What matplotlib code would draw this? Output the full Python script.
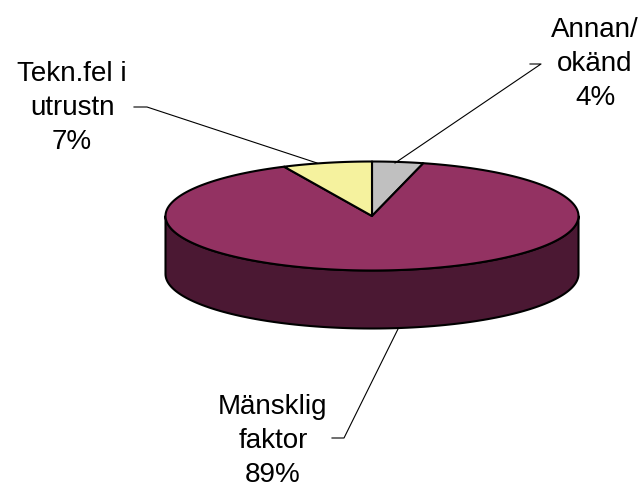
import numpy as np
import matplotlib
matplotlib.use('Agg')
import matplotlib.pyplot as plt
from matplotlib.patches import Polygon

# data, clockwise from 12 o'clock
labels = ['Annan/\nokänd', 'Mänsklig\nfaktor', 'Tekn.fel i\nutrustn']
values = [4, 89, 7]
top_colors = ['#C0C0C0', '#933262', '#F5F29E']
side_colors = ['#606060', '#4B1833', '#7A7950']

W, H = 639, 489
fig = plt.figure(figsize=(W / 100, H / 100), dpi=100)
ax = fig.add_axes([0, 0, 1, 1])
ax.set_xlim(0, W)
ax.set_ylim(H, 0)
ax.axis('off')

cx, cy = 372, 217
a, b = 206.5, 54.5
depth = 58


def pt(phi, dy=0):
    r = np.radians(phi)
    return cx + a * np.cos(r), cy - b * np.sin(r) + dy


total = float(sum(values))
starts = []
ang = 90.0
for v in values:
    sweep = 360.0 * v / total
    starts.append((ang, ang - sweep))
    ang -= sweep

# side faces (front half only: phi in [-180, 0] mod 360)
for (s, e), col in zip(starts, side_colors):
    hi, lo = s, e
    for k in range(-1, 2):
        f_lo, f_hi = -180 + 360 * k, 0 + 360 * k
        l2, h2 = max(lo, f_lo), min(hi, f_hi)
        if h2 <= l2:
            continue
        ph = np.linspace(l2, h2, 120)
        topc = [pt(p) for p in ph]
        botc = [pt(p, depth) for p in ph[::-1]]
        ax.add_patch(Polygon(topc + botc, closed=True, facecolor=col,
                             edgecolor='black', lw=1.5, joinstyle='round'))

# top faces
for (s, e), col in zip(starts, top_colors):
    ph = np.linspace(s, e, 200)
    verts = [(cx, cy)] + [pt(p) for p in ph]
    ax.add_patch(Polygon(verts, closed=True, facecolor=col,
                         edgecolor='black', lw=1.5, joinstyle='round'))

# labels with leader lines
lab_pos = [(595, 64), (273, 441), (72, 108)]
leaders = [[(530, 65), (541, 65), (395, 164)],
           [(332, 439), (344, 439), (398, 330)],
           [(134, 108), (147, 108), (317, 164)]]
for lab, v, (tx, ty), ln in zip(labels, values, lab_pos, leaders):
    ax.text(tx, ty, lab + '\n' + str(v) + '%', ha='center', va='center',
            fontsize=20, family='Liberation Sans', linespacing=1.42)
    xs, ys = zip(*ln)
    ax.plot(xs, ys, color='black', lw=0.8)

fig.savefig('out.png', dpi=100, facecolor='white')
